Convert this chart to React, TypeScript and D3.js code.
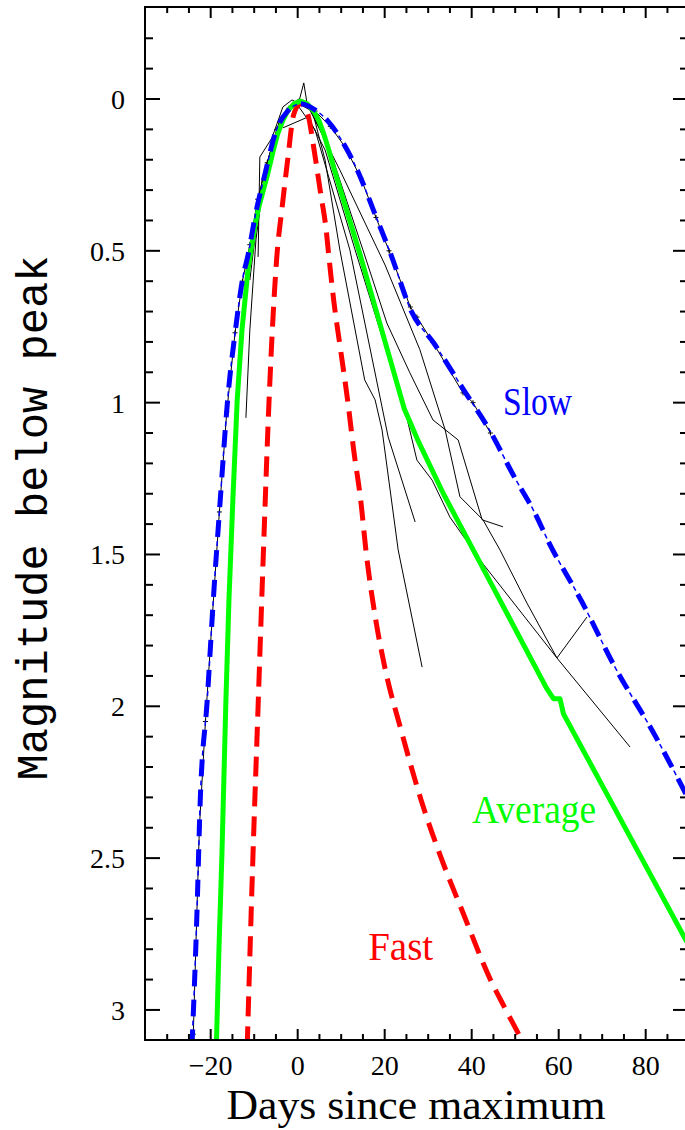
import React, { useEffect, useRef } from 'react';
import * as d3 from 'd3';

type Pt = [number, number];

// template curves: [days since maximum, magnitude below peak]
const slowCurve: Pt[] = [
  [-24.3, 3.12], [-23.2, 2.7], [-22.4, 2.31], [-20.8, 1.98], [-19.4, 1.65], [-17.8, 1.32],
  [-16.1, 0.99], [-14.3, 0.76], [-12.5, 0.58], [-11.5, 0.52], [-9.7, 0.38], [-7.4, 0.24],
  [-5.1, 0.11], [-2.3, 0.04], [0.7, 0.016], [3.7, 0.033], [6.9, 0.072], [10.6, 0.148],
  [13.8, 0.237], [17.5, 0.369], [21.5, 0.515], [26.1, 0.698], [31.4, 0.806], [38.3, 0.961],
  [43.8, 1.083], [50, 1.25], [54.4, 1.36], [57.9, 1.465], [65.3, 1.655], [72.9, 1.87],
  [82.1, 2.095], [90, 2.31],
];

const averageCurve: Pt[] = [
  [-18.7, 3.12], [-18.1, 2.8], [-17.4, 2.48], [-16.5, 1.98], [-15.8, 1.65], [-14.9, 1.32],
  [-13.9, 0.99], [-12.8, 0.76], [-11.4, 0.56], [-10.0, 0.43], [-9.0, 0.36], [-7.9, 0.3],
  [-6.9, 0.247], [-5.7, 0.175], [-4.6, 0.115], [-3.4, 0.07], [-2.3, 0.039], [-0.8, 0.015],
  [0.7, 0.007], [2.2, 0.016], [3.7, 0.04], [4.9, 0.072], [6.0, 0.115], [7.2, 0.17],
  [8.3, 0.227], [10.6, 0.336], [12.9, 0.444], [14.5, 0.52], [18.5, 0.72], [21.5, 0.87],
  [24.5, 1.02], [27.5, 1.12], [33.5, 1.3], [45.0, 1.61], [57.2, 1.94], [58.8, 1.975],
  [60.3, 1.975], [61.1, 2.025], [71.5, 2.3], [90, 2.79],
];

const fastCurve: Pt[] = [
  [-11.6, 3.12], [-10.3, 2.5], [-9.1, 2.0], [-7.9, 1.5], [-6.6, 1.0], [-5.6, 0.7],
  [-4.8, 0.52], [-3.6, 0.36], [-2.3, 0.2], [-0.9, 0.05], [0.7, 0.016], [2.3, 0.049],
  [3.7, 0.161], [5.3, 0.313], [6.5, 0.425], [7.2, 0.523], [8.3, 0.665], [9.9, 0.83],
  [11.5, 0.994], [12.9, 1.159], [14.5, 1.323], [15.7, 1.488], [18.0, 1.72], [20.0, 1.87],
  [23.8, 2.08], [28.4, 2.31], [33.0, 2.5], [38.0, 2.68], [44.3, 2.9], [47.5, 2.99],
  [52.3, 3.12],
];

// individual supernovae (thin black)
const snA: Pt[] = [
  [-11.9, 1.05], [-11.0, 0.761], [-9.6, 0.464], [-7.5, 0.234], [-4.1, 0.069], [0.1, 0.003],
  [3.3, 0.036], [6.3, 0.201], [9.7, 0.497], [15.4, 0.925], [17.8, 0.991], [19.4, 1.09],
  [23.1, 1.485], [28.6, 1.871],
];
const snB: Pt[] = [
  [-11.0, 0.596], [-8.2, 0.267], [-4.1, 0.069], [-0.2, 0.016], [4.0, 0.102], [12.0, 0.497],
  [20.8, 1.113], [27.0, 1.393],
];
const snC: Pt[] = [
  [-7.5, 0.25], [-2.7, 0.036], [0.5, -0.003], [1.4, -0.053], [2.1, 0.01], [7.4, 0.168],
  [15.0, 0.497], [20.5, 0.738], [25.8, 0.902], [31.1, 1.057], [36.9, 1.123], [42.4, 1.386],
  [47.2, 1.409],
];
const snD: Pt[] = [
  [-3.4, 0.095], [2.4, 0.059], [6.3, 0.168], [13.2, 0.497], [18.9, 0.76], [25.1, 1.05],
  [27.4, 1.189], [30.9, 1.255], [35.0, 1.377], [41.9, 1.518], [59.6, 1.841], [66.5, 1.706],
];
const snE: Pt[] = [
  [-9.1, 0.52], [-8.7, 0.191], [-5.9, 0.128], [-3.4, 0.026], [-1.3, 0.003], [2.8, 0.036],
  [9.7, 0.234], [20.1, 0.547], [28.1, 0.826], [33.9, 1.09], [37.3, 1.31], [42.6, 1.386],
  [46.5, 1.485], [52.7, 1.66], [59.6, 1.841], [76.4, 2.134],
];
const snSlow: Pt[] = [
  [-24.0, 3.08], [-22.6, 2.4], [-21.2, 2.05], [-19.6, 1.7], [-18.0, 1.36], [-16.3, 1.03],
  [-14.4, 0.77], [-12.7, 0.6], [-11.0, 0.48], [-9.2, 0.33], [-7.0, 0.21], [-4.8, 0.1],
  [-2.0, 0.03], [1.0, 0.01], [4.0, 0.04], [7.5, 0.09], [11.0, 0.16], [14.5, 0.26],
  [18.0, 0.39], [21.0, 0.5], [25.9, 0.685], [27.4, 0.718], [31.0, 0.8], [38.0, 0.968],
  [40.3, 1.0], [44.3, 1.1],
];
const observed = [snA, snB, snC, snD, snE, snSlow];

const xTickLabels = [-20, 0, 20, 40, 60, 80];
const yTickLabels = [0, 0.5, 1, 1.5, 2, 2.5, 3];

const App = () => {
  const ref = useRef<SVGSVGElement>(null);

  useEffect(() => {
    const left = 145, right = 688, top = 7, bottom = 1040;

    const svg = d3.select(ref.current);
    svg.selectAll('*').remove();

    const x = d3.scaleLinear().domain([-35.1, -35.1 + (right - left) / 4.35]).range([left, right]);
    const y = d3.scaleLinear().domain([-0.303, 3.099]).range([top, bottom]);

    svg.append('defs').append('clipPath').attr('id', 'plot-clip')
      .append('rect').attr('x', left).attr('y', top)
      .attr('width', right - left).attr('height', bottom - top);

    const plot = svg.append('g').attr('clip-path', 'url(#plot-clip)');

    const rough = d3.line<Pt>().x(d => x(d[0])).y(d => y(d[1]));
    const smooth = d3.line<Pt>().x(d => x(d[0])).y(d => y(d[1])).curve(d3.curveMonotoneX);

    // thin black light curves
    observed.forEach(sn => {
      plot.append('path').attr('d', rough(sn))
        .attr('fill', 'none').attr('stroke', '#000').attr('stroke-width', 1);
    });
    // little crosses on the slow-template data
    snSlow.forEach(d => {
      plot.append('path')
        .attr('d', `M${x(d[0]) - 2.5},${y(d[1])}h5M${x(d[0])},${y(d[1]) - 2.5}v5`)
        .attr('stroke', '#000').attr('stroke-width', 1);
    });

    // fast: red dashed
    plot.append('path').attr('d', smooth(fastCurve))
      .attr('fill', 'none').attr('stroke', '#ff0000').attr('stroke-width', 5)
      .attr('stroke-dasharray', '20 10');

    // average: green solid
    plot.append('path').attr('d', rough(averageCurve))
      .attr('fill', 'none').attr('stroke', '#00ff00').attr('stroke-width', 5)
      .attr('stroke-linejoin', 'round');

    // slow: blue dash-dot (thick dash, thin dot)
    plot.append('path').attr('d', smooth(slowCurve))
      .attr('fill', 'none').attr('stroke', '#0000ff').attr('stroke-width', 5)
      .attr('stroke-dasharray', '17 13');
    plot.append('path').attr('d', smooth(slowCurve))
      .attr('fill', 'none').attr('stroke', '#0000ff').attr('stroke-width', 1.5)
      .attr('stroke-dasharray', '5 25').attr('stroke-dashoffset', 9);

    // frame
    svg.append('rect').attr('x', left).attr('y', top)
      .attr('width', right - left).attr('height', bottom - top)
      .attr('fill', 'none').attr('stroke', '#000').attr('stroke-width', 2);

    const ticks = svg.append('g').attr('stroke', '#000').attr('stroke-width', 2);
    d3.range(-30, 90, 5).forEach(v => {
      const len = v % 20 === 0 ? 11 : 6;
      const px = x(v);
      ticks.append('line').attr('x1', px).attr('x2', px).attr('y1', bottom).attr('y2', bottom - len);
      ticks.append('line').attr('x1', px).attr('x2', px).attr('y1', top).attr('y2', top + len);
    });
    d3.range(-2, 31).forEach(i => {
      const len = i % 5 === 0 ? 15 : 8;
      const py = y(i / 10);
      ticks.append('line').attr('x1', left).attr('x2', left + len).attr('y1', py).attr('y2', py);
      ticks.append('line').attr('x1', right).attr('x2', right - len).attr('y1', py).attr('y2', py);
    });

    const serif = "'Liberation Serif', 'Times New Roman', serif";
    svg.append('g').selectAll('text').data(xTickLabels).join('text')
      .attr('x', d => x(d)).attr('y', 1075)
      .attr('text-anchor', 'middle').attr('font-family', serif).attr('font-size', 28)
      .text(d => (d < 0 ? '\u2212' + Math.abs(d) : String(d)));

    svg.append('g').selectAll('text').data(yTickLabels).join('text')
      .attr('x', 125).attr('y', d => y(d) + 10)
      .attr('text-anchor', 'end').attr('font-family', serif).attr('font-size', 28)
      .text(d => String(d));

    svg.append('text')
      .attr('x', 416).attr('y', 1119)
      .attr('text-anchor', 'middle').attr('font-family', serif).attr('font-size', 42)
      .attr('textLength', 379).attr('lengthAdjust', 'spacingAndGlyphs')
      .text('Days since maximum');

    svg.append('text')
      .attr('transform', 'translate(47,518) rotate(-90)')
      .attr('text-anchor', 'middle').attr('font-family', "'Liberation Mono', monospace").attr('font-size', 44)
      .attr('textLength', 525).attr('lengthAdjust', 'spacingAndGlyphs')
      .text('Magnitude below peak');

    const labels = [
      { text: 'Slow', d: 47.2, m: 1.04, len: 69, color: '#0000ff' },
      { text: 'Average', d: 40.1, m: 2.384, len: 124, color: '#00ff00' },
      { text: 'Fast', d: 16.2, m: 2.835, len: 65, color: '#ff0000' },
    ];
    labels.forEach(l => {
      svg.append('text')
        .attr('x', x(l.d)).attr('y', y(l.m))
        .attr('font-family', serif).attr('font-size', 40).attr('fill', l.color)
        .attr('textLength', l.len).attr('lengthAdjust', 'spacingAndGlyphs')
        .text(l.text);
    });
  }, []);

  return (
    <svg ref={ref} width={685} height={1130}
      style={{ position: 'absolute', left: 0, top: 0, background: '#fff' }} />
  );
};

export default App;
